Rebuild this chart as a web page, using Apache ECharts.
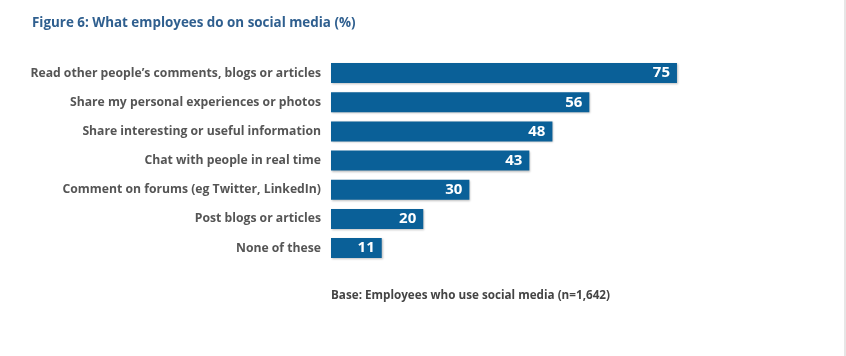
<!DOCTYPE html>
<html><head><meta charset="utf-8">
<script src="https://cdn.jsdelivr.net/npm/echarts@6/dist/echarts.min.js"></script>
<style>html,body{margin:0;padding:0;background:#fff;}#c{width:846px;height:356px;}</style>
</head><body><div id="c"></div>
<script>
const categories = [
  "Read other people\u2019s comments, blogs or articles",
  "Share my personal experiences or photos",
  "Share interesting or useful information",
  "Chat with people in real time",
  "Comment on forums (eg Twitter, LinkedIn)",
  "Post blogs or articles",
  "None of these"
];
const values = [75, 56, 48, 43, 30, 20, 11];
const titleText = "Figure 6: What employees do on social media (%)";
const baseNote = "Base: Employees who use social media (n=1,642)";

const chart = echarts.init(document.getElementById('c'));
chart.setOption({
  animation: false,
  backgroundColor: '#ffffff',
  title: {
    text: titleText, left: 27, top: 12,
    textStyle: { color: '#2f5f8f', fontSize: 13.4, fontWeight: 'bold', fontFamily: 'Open Sans' }
  },
  graphic: [
    { type: 'text', left: 331, top: 290,
      style: { text: baseNote, fill: '#444', font: 'bold 11.7px "Open Sans"' } },
    { type: 'rect', shape: { x: 844, y: 0, width: 2, height: 356 }, style: { fill: '#e6e6e6' } }
  ],
  grid: { left: 331, top: 58.5, width: 461.3, height: 204.2, containLabel: false },
  xAxis: { type: 'value', min: 0, max: 100, show: false },
  yAxis: {
    type: 'category', inverse: true, data: categories,
    axisLine: { show: false }, axisTick: { show: false },
    axisLabel: { color: '#555', fontSize: 12.2, fontWeight: 'bold', fontFamily: 'Open Sans', margin: 10 }
  },
  series: [{
    type: 'bar', data: values, barWidth: 20,
    itemStyle: { color: '#0a6098', shadowColor: 'rgba(0,0,0,0.25)', shadowBlur: 2, shadowOffsetX: 1, shadowOffsetY: 1 },
    label: { show: true, position: 'insideRight', distance: 7, color: '#fff', fontSize: 15, fontWeight: 'bold', fontFamily: 'Open Sans' }
  }]
});
</script></body></html>
